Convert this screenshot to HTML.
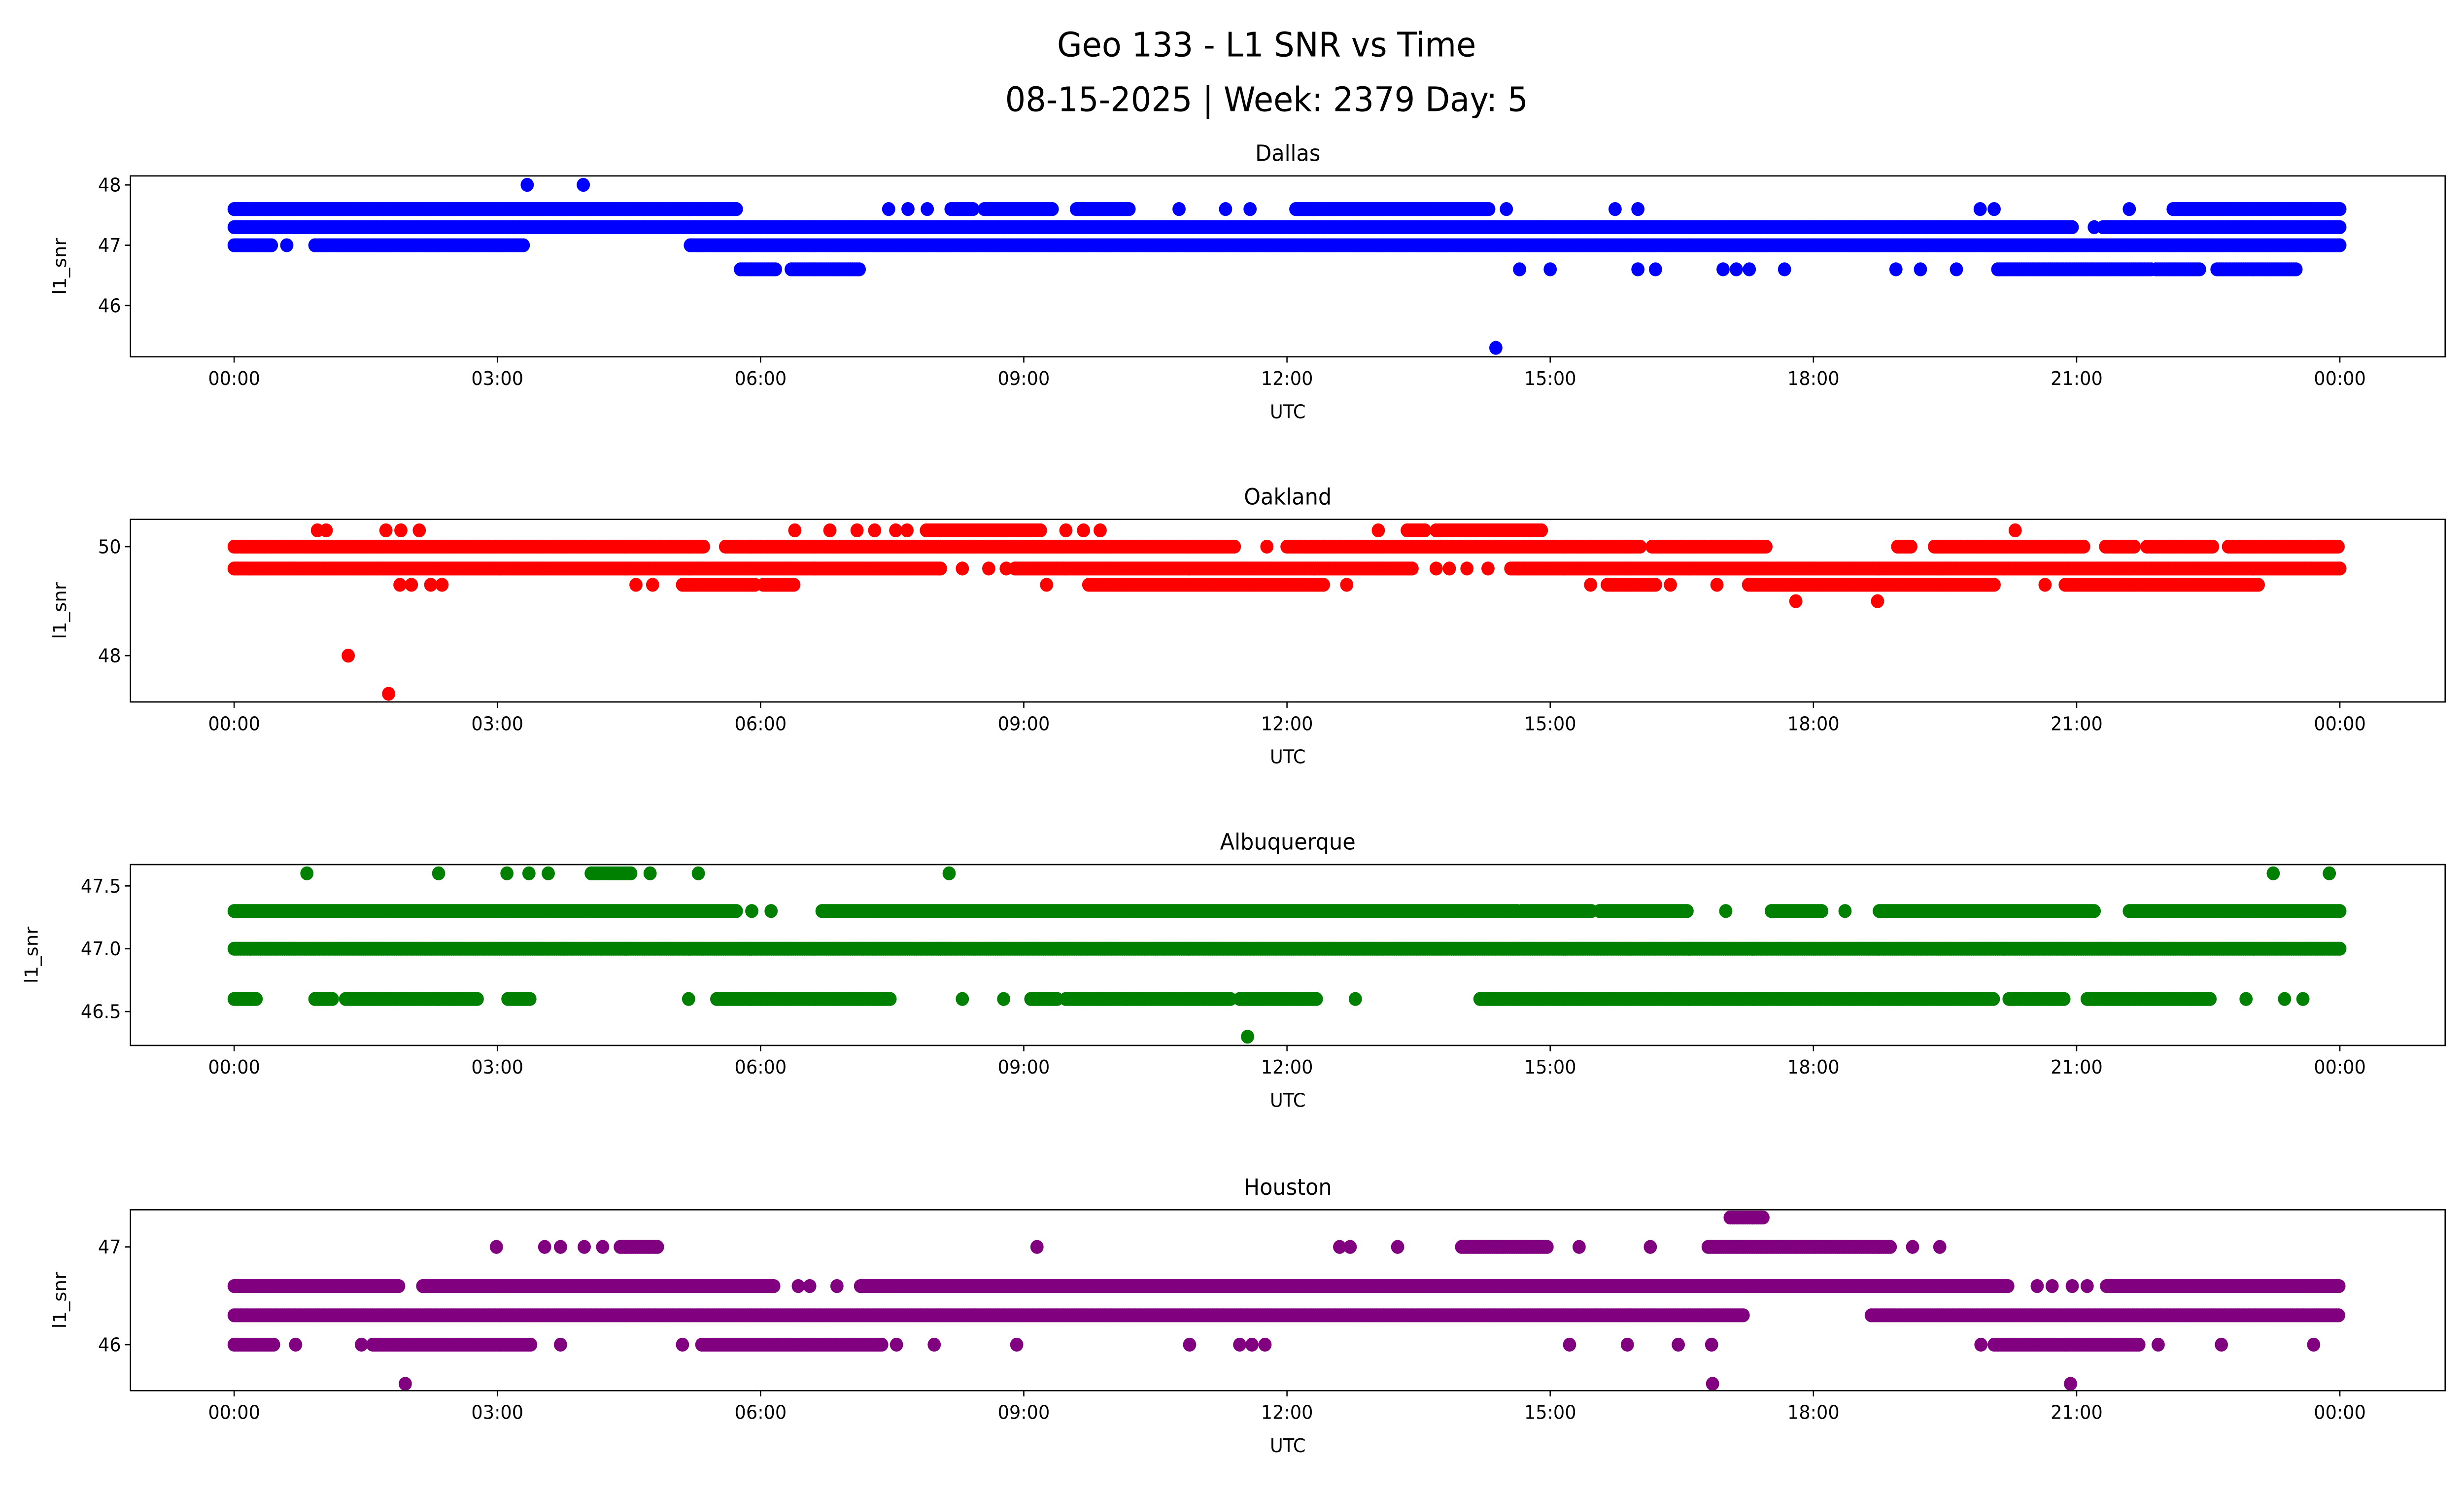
<!DOCTYPE html>
<html><head><meta charset="utf-8"><style>
html,body{margin:0;padding:0;background:#fff;width:100%;height:100%;overflow:hidden}
svg{display:block;position:absolute;left:0;top:0;width:100vw;height:100vh}
text{font-family:"DejaVu Sans","Liberation Sans",sans-serif;fill:#000}
</style></head><body>
<svg id="fig" viewBox="0 0 1568 900.9" preserveAspectRatio="none" xmlns="http://www.w3.org/2000/svg">
<text x="806" y="34" text-anchor="middle" font-size="20.5">Geo 133 - L1 SNR vs Time</text>
<text x="806" y="67" text-anchor="middle" font-size="20.5">08-15-2025 | Week: 2379 Day: 5</text>
<g id="panels"></g>
</svg>
<script>
// ---- data (hours UTC, SNR) ----
const xTicks = [0,3,6,9,12,15,18,21,24];
const xTickLabels = ["00:00","03:00","06:00","09:00","12:00","15:00","18:00","21:00","00:00"];
const stations = ["Dallas","Oakland","Albuquerque","Houston"];
const colors = ["#0000ff","#ff0000","#008000","#800080"];
const yTicksDallas = [46,47,48];
const yTicksOakland = [48,50];
const yTicksAlbuquerque = [46.5,47.0,47.5];
const yTicksHouston = [46,47];
// runs: [level, startHour, endHour]
const runsDallas = [[47.6,0,5.73],[47.6,8.17,8.42],[47.6,8.55,9.34],[47.6,9.6,10.2],[47.6,12.1,14.3],[47.6,22.1,24],
 [47.3,0,20.95],[47.3,21.3,24],[47.0,0,0.43],[47.0,0.92,3.3],[47.0,5.2,24],
 [46.6,5.77,6.17],[46.6,6.35,7.14],[46.6,20.1,21.86],[46.6,21.9,22.4],[46.6,22.6,23.5]];
const ptsDallas = [[47.6,7.46],[47.6,7.68],[47.6,7.9],[47.6,10.77],[47.6,11.3],[47.6,11.58],[47.6,14.5],[47.6,15.74],[47.6,16.0],[47.6,19.9],[47.6,20.06],[47.6,21.6],
 [47.3,21.2],[47.0,0.6],
 [46.6,14.65],[46.6,15.0],[46.6,16.0],[46.6,16.2],[46.6,16.97],[46.6,17.12],[46.6,17.27],[46.6,17.67],[46.6,18.94],[46.6,19.22],[46.6,19.63],
 [48,3.34],[48,3.98],[45.3,14.38]];
const runsOakland = [[50.3,7.89,9.21],[50.3,13.7,14.9],[50.3,13.37,13.57],
 [50.0,0,5.37],[50.0,5.6,11.4],[50.0,12.0,16.03],[50.0,16.16,17.47],[50.0,18.96,19.13],[50.0,19.38,21.08],[50.0,21.33,21.67],[50.0,21.8,22.57],[50.0,22.73,24],
 [49.6,0,8.05],[49.6,8.9,13.44],[49.6,14.55,24],
 [49.3,5.11,5.95],[49.3,6.03,6.39],[49.3,9.74,12.42],[49.3,15.65,16.2],[49.3,17.26,20.06],[49.3,20.87,23.07]];
const ptsOakland = [[50.3,0.95],[50.3,1.05],[50.3,1.73],[50.3,1.9],[50.3,2.11],[50.3,6.39],[50.3,6.79],[50.3,7.1],[50.3,7.3],[50.3,7.54],[50.3,7.67],[50.3,9.48],[50.3,9.68],[50.3,9.87],[50.3,13.04],[50.3,20.3],
 [50.0,11.77],[49.6,8.3],[49.6,8.6],[49.6,8.8],[49.6,13.7],[49.6,13.85],[49.6,14.05],[49.6,14.29],
 [49.3,1.89],[49.3,2.02],[49.3,2.24],[49.3,2.37],[49.3,4.58],[49.3,4.77],[49.3,9.26],[49.3,12.68],[49.3,15.46],[49.3,16.37],[49.3,16.9],[49.3,20.64],
 [49.0,17.8],[49.0,18.73],[48.0,1.30],[47.3,1.76]];
const runsAlbuquerque = [[47.0,0,24],[47.3,0,5.73],[47.3,6.7,14.63],[47.3,14.67,15.48],[47.3,15.56,16.58],[47.3,17.52,18.1],[47.3,18.75,21.2],[47.3,21.6,24],
 [47.6,4.07,4.54],
 [46.6,0,0.26],[46.6,0.92,1.14],[46.6,1.27,2.77],[46.6,3.12,3.37],[46.6,5.5,7.49],[46.6,9.08,9.39],[46.6,9.48,11.37],[46.6,11.46,12.34],[46.6,14.2,20.06],[46.6,20.23,20.87],[46.6,21.12,22.52]];
const ptsAlbuquerque = [[47.3,5.9],[47.3,6.12],[47.3,17.0],[47.3,18.36],
 [47.6,0.83],[47.6,2.33],[47.6,3.11],[47.6,3.36],[47.6,3.58],[47.6,4.74],[47.6,5.29],[47.6,8.15],[47.6,23.24],[47.6,23.88],
 [46.6,5.18],[46.6,8.3],[46.6,8.77],[46.6,12.78],[46.6,22.93],[46.6,23.37],[46.6,23.58],[46.3,11.55]];
const runsHouston = [[46.3,0,17.22],[46.3,18.66,24],
 [46.6,0,1.89],[46.6,2.15,6.17],[46.6,7.14,7.54],[46.6,7.54,20.23],[46.6,21.34,24],
 [47.0,4.4,4.84],[47.0,13.99,14.97],[47.0,16.8,18.88],[47.3,17.05,17.43],
 [46.0,0,0.45],[46.0,1.58,3.39],[46.0,5.33,7.4],[46.0,20.06,21.72]];
const ptsHouston = [[46.6,6.43],[46.6,6.56],[46.6,6.87],[46.6,20.55],[46.6,20.72],[46.6,20.95],[46.6,21.12],
 [47.0,2.99],[47.0,3.54],[47.0,3.72],[47.0,3.99],[47.0,4.2],[47.0,9.15],[47.0,12.6],[47.0,12.72],[47.0,13.26],[47.0,15.33],[47.0,16.14],[47.0,19.13],[47.0,19.44],
 [46.0,0.7],[46.0,1.45],[46.0,3.72],[46.0,5.11],[46.0,7.55],[46.0,7.98],[46.0,8.92],[46.0,10.89],[46.0,11.46],[46.0,11.6],[46.0,11.75],[46.0,15.22],[46.0,15.88],[46.0,16.46],[46.0,16.84],[46.0,19.91],[46.0,21.93],[46.0,22.65],[46.0,23.7],
 [45.6,1.95],[45.6,16.85],[45.6,20.93]];

const panelLayout = [
 {top:106,bot:215,ymin:45.15,ymax:48.15,ticks:yTicksDallas,fmt:v=>v.toFixed(0),runs:runsDallas,pts:ptsDallas},
 {top:313,bot:423,ymin:47.15,ymax:50.5,ticks:yTicksOakland,fmt:v=>v.toFixed(0),runs:runsOakland,pts:ptsOakland},
 {top:521,bot:630,ymin:46.23,ymax:47.67,ticks:yTicksAlbuquerque,fmt:v=>v.toFixed(1),runs:runsAlbuquerque,pts:ptsAlbuquerque},
 {top:729,bot:838,ymin:45.53,ymax:47.38,ticks:yTicksHouston,fmt:v=>v.toFixed(0),runs:runsHouston,pts:ptsHouston}
];
const NS="http://www.w3.org/2000/svg";
const L=83,R=1556,RAD=4.2;
const xScale=h=>149+h/24*1340;
const root=document.getElementById('panels');
function mk(tag,attrs,parent){const e=document.createElementNS(NS,tag);for(const k in attrs)e.setAttribute(k,attrs[k]);parent.appendChild(e);return e;}
panelLayout.forEach((p,i)=>{
 const g=mk('g',{},root);
 
 
 const yScale=v=>p.bot-(v-p.ymin)/(p.ymax-p.ymin)*(p.bot-p.top);
 const t=mk('text',{x:(L+R)/2,y:p.top-9,'text-anchor':'middle','font-size':13.5},g);t.textContent=stations[i];
 
 
 const dots=mk('g',{fill:colors[i]},g);
 
 
 p.runs.forEach(r=>{for(let h=r[1];h<=r[2]+1e-9;h+=0.025){mk('circle',{cx:xScale(h).toFixed(1),cy:yScale(r[0]).toFixed(1),r:RAD},dots);}});
 p.pts.forEach(q=>{mk('circle',{cx:xScale(q[1]).toFixed(1),cy:yScale(q[0]).toFixed(1),r:RAD},dots);});
 const fr=mk('rect',{x:L,y:p.top,width:R-L,height:p.bot-p.top,fill:'none',stroke:'#000','stroke-width':0.8},g);
 
 
 xTicks.forEach((h,j)=>{const x=xScale(h);mk('line',{x1:x,x2:x,y1:p.bot,y2:p.bot+3.5,stroke:'#000','stroke-width':0.8},g);
  const tl=mk('text',{x:x,y:p.bot+17,'text-anchor':'middle','font-size':11.5},g);tl.textContent=xTickLabels[j];
  
  });
 p.ticks.forEach(v=>{const y=yScale(v);mk('line',{x1:L-3.5,x2:L,y1:y,y2:y,stroke:'#000','stroke-width':0.8},g);
  const tl=mk('text',{x:L-6,y:y+4,'text-anchor':'end','font-size':11.5},g);tl.textContent=p.fmt(v);
  
  });
 const xl=mk('text',{x:(L+R)/2,y:p.bot+37,'text-anchor':'middle','font-size':11.5},g);xl.textContent='UTC';
 
 
 const yc=(p.top+p.bot)/2;
 const yl=mk('text',{x:0,y:0,'text-anchor':'middle','font-size':11.5,transform:`translate(${i==2?24:42},${yc}) rotate(-90)`},g);yl.textContent='l1_snr';
 
 
});
</script>
</body></html>
